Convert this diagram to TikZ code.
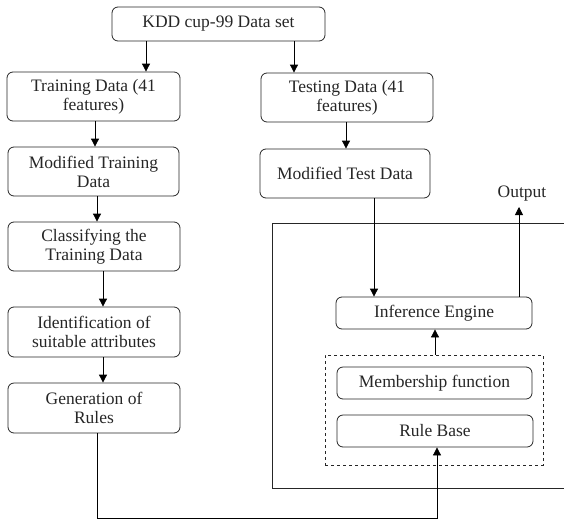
\documentclass[tikz,border=0pt]{standalone}
\usepackage{fontspec}
\setmainfont{Liberation Serif}
\usetikzlibrary{arrows.meta}
\begin{document}
\begin{tikzpicture}[x=1pt,y=-1pt,
  box/.style={draw=black!85, line width=0.8pt, rounded corners=6pt, align=center, inner sep=0pt,
    font=\fontsize{17.5}{19}\selectfont, text=black!85},
  arr/.style={draw=black, line width=0.8pt, -{Triangle[length=8pt,width=8pt]}},
  ln/.style={draw=black!85, line width=0.8pt}]
\useasboundingbox (0,0) rectangle (564,522);
\node[box, minimum width=213, minimum height=34] (kdd) at (218.5,24) {KDD cup-99 Data set};
\node[box, minimum width=173, minimum height=49] (train) at (93.5,96.5) {Training Data (41\\features)};
\node[box, minimum width=172, minimum height=49] (test) at (347,97.5) {Testing Data (41\\features)};
\node[box, minimum width=171, minimum height=49] (modtrain) at (93.5,171.5) {Modified Training\\Data};
\node[box, minimum width=170, minimum height=49] (modtest) at (345,173.5) {Modified Test Data};
\node[box, minimum width=172, minimum height=49] (classify) at (94,246.5) {Classifying the\\Training Data};
\node[box, minimum width=172, minimum height=50] (ident) at (94,332) {Identification of\\suitable attributes};
\node[box, minimum width=172, minimum height=50] (gen) at (94,408) {Generation of\\Rules};
\draw[ln] (564,223) -- (272,223) -- (272,488) -- (564,488);
\node[draw=black!85, line width=0.8pt, dashed, minimum width=218, minimum height=110, inner sep=0pt] (dashbox) at (434,410) {};
\node[box, minimum width=196, minimum height=32] (infer) at (434,313) {Inference Engine};
\node[box, minimum width=195, minimum height=32] (member) at (434.5,383) {Membership function};
\node[box, minimum width=196, minimum height=32] (rule) at (435,431) {Rule Base};
\node[font=\fontsize{17.5}{19}\selectfont, text=black!85] (outlbl) at (522,194) {Output};
\coordinate (outtip) at (519,207);
\coordinate (bot) at (437,518);
\draw[arr] (kdd.south -| 146,0) -- (train.north -| 146,0);
\draw[arr] (kdd.south -| 294,0) -- (test.north -| 294,0);
\draw[arr] (train.south -| 95,0) -- (modtrain.north -| 95,0);
\draw[arr] (test.south -| 346,0) -- (modtest.north -| 346,0);
\draw[arr] (modtrain.south -| 97,0) -- (classify.north -| 97,0);
\draw[arr] (classify.south -| 103,0) -- (ident.north -| 103,0);
\draw[arr] (ident.south -| 103,0) -- (gen.north -| 103,0);
\draw[arr] (modtest.south -| 374,0) -- (infer.north -| 374,0);
\draw[arr] (infer.north -| outtip) -- (outtip);
\draw[arr] (dashbox.north -| 435,0) -- (infer.south -| 435,0);
\draw[arr] (gen.south -| 97,0) |- (bot) -- (rule.south -| bot);
\end{tikzpicture}
\end{document}
